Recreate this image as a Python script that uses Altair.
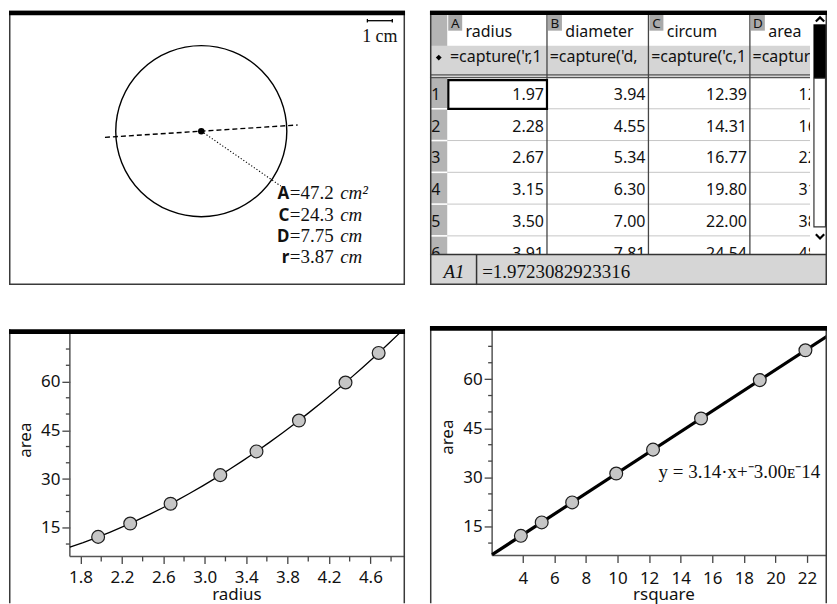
import math
import altair as alt
import pandas as pd

# ---------------- data ----------------
radius = [1.97, 2.28, 2.67, 3.15, 3.50, 3.91, 4.36, 4.68]
area = [12.2, 16.3, 22.4, 31.2, 38.5, 48.0, 59.7, 68.8]
rsquare = [3.88, 5.20, 7.13, 9.92, 12.25, 15.29, 19.01, 21.90]
diameter = [3.94, 4.55, 5.34, 6.30, 7.00, 7.81]
circum = [12.39, 14.31, 16.77, 19.80, 22.00, 24.54]

sheet_letters = ["A", "B", "C", "D"]
sheet_names = ["radius", "diameter", "circum", "area"]
sheet_formulas = ["=capture('r,1)", "=capture('d,1)", "=capture('c,1)", "=capture('a,1)"]
row_numbers = ["1", "2", "3", "4", "5", "6"]
entry_ref = "A1"
entry_value = "=1.9723082923316"

measure_letters = ["A", "C", "D", "r"]
measure_values = [47.2, 24.3, 7.75, 3.87]
measure_units = ["cm²", "cm", "cm", "cm"]
circle_radius_cm = 3.87
scale_bar_cm = 1
scale_bar_label = "1 cm"

equation_text = "y = 3.14·x+⁻3.00ᴇ⁻14"
left_x_title, right_x_title, y_title = "radius", "rsquare", "area"

radius_labels = [1.8, 2.2, 2.6, 3.0, 3.4, 3.8, 4.2, 4.6]
radius_minor = [2.0, 2.4, 2.8, 3.2, 3.6, 4.0, 4.4, 4.8]
rsquare_ticks = [4, 6, 8, 10, 12, 14, 16, 18, 20, 22]
area_labels = [15, 30, 45, 60]
area_minor = [10, 20, 25, 35, 40, 50, 55, 65, 70]

# ---------------- styles / layout ----------------
SANS = "Noto Sans"
SERIF = "Liberation Serif"
INK = "#111111"
FRAME = "#3a3a3a"
ONE = pd.DataFrame({"k": [0]})
CUT = "\u200b"


def frame_box(W, H):
    return alt.Chart(ONE).mark_rect(fillOpacity=0, stroke=FRAME, strokeWidth=1.5).encode(
        x=alt.value(0.75), x2=alt.value(W - 0.75), y=alt.value(0.75), y2=alt.value(H - 0.75))


def top_bar(W, y0, y1):
    return alt.Chart(ONE).mark_rect(color="black").encode(
        x=alt.value(0), x2=alt.value(W), y=alt.value(y0), y2=alt.value(y1))


def side_line(x, y0, y1):
    return alt.Chart(ONE).mark_rule(color=FRAME, strokeWidth=1.5).encode(
        x=alt.value(x), y=alt.value(y0), y2=alt.value(y1))


# ================= top-left: geometry =================
W1, H1 = 397, 275
PXCM = 25.0
sx1 = alt.Scale(domain=[0, W1 / PXCM], nice=False, zero=False)
sy1 = alt.Scale(domain=[0, H1 / PXCM], nice=False, zero=False)


def X1(f):
    return alt.X(f"{f}:Q", scale=sx1, axis=None)


def Y1(f):
    return alt.Y(f"{f}:Q", scale=sy1, axis=None)


cx, cy = 7.71, 6.17
r = circle_radius_cm
a_d = math.radians(3.67)
a_r = math.radians(-34.6)
centre = pd.DataFrame({"x": [cx], "y": [cy]})
diam_df = pd.DataFrame({"x": [cx - r * math.cos(a_d)], "y": [cy - r * math.sin(a_d)],
                        "x2": [cx + r * math.cos(a_d)], "y2": [cy + r * math.sin(a_d)]})
rad_df = pd.DataFrame({"x": [cx], "y": [cy],
                       "x2": [cx + r * math.cos(a_r)], "y2": [cy + r * math.sin(a_r)]})

circle = alt.Chart(centre).mark_point(shape="circle", filled=False, color="black", strokeWidth=1.4,
                                      opacity=1, size=math.pi * (r * PXCM) ** 2).encode(x=X1("x"), y=Y1("y"))
dot = alt.Chart(centre).mark_point(shape="circle", filled=True, color="black", opacity=1, size=42).encode(
    x=X1("x"), y=Y1("y"))
diam = alt.Chart(diam_df).mark_rule(color="black", strokeWidth=1.4, strokeDash=[5, 3]).encode(
    x=X1("x"), y=Y1("y"), x2=alt.X2("x2"), y2=alt.Y2("y2"))
radl = alt.Chart(rad_df).mark_rule(color="black", strokeWidth=1.1, strokeDash=[1.2, 2]).encode(
    x=X1("x"), y=Y1("y"), x2=alt.X2("x2"), y2=alt.Y2("y2"))

sb_x0, sb_y = 14.37, 10.6
sb_df = pd.DataFrame({"x": [sb_x0], "x2": [sb_x0 + scale_bar_cm], "y": [sb_y]})
sb_line = alt.Chart(sb_df).mark_rule(color="black", strokeWidth=1.3).encode(x=X1("x"), x2=alt.X2("x2"), y=Y1("y"))
caps_df = pd.DataFrame({"x": [sb_x0, sb_x0 + scale_bar_cm], "y": [sb_y - 0.07] * 2, "y2": [sb_y + 0.07] * 2})
sb_caps = alt.Chart(caps_df).mark_rule(color="black", strokeWidth=1.3).encode(x=X1("x"), y=Y1("y"), y2=alt.Y2("y2"))
sb_txt = alt.Chart(pd.DataFrame({"x": [sb_x0 + scale_bar_cm / 2], "y": [9.73], "t": [scale_bar_label]})).mark_text(
    font=SERIF, fontSize=18, color=INK, align="center", baseline="alphabetic").encode(x=X1("x"), y=Y1("y"), text="t:N")

meas = pd.DataFrame({"letter": measure_letters,
                     "value": [f"={v:g}" for v in measure_values],
                     "unit": measure_units})
meas["y"] = [3.44 - 0.857 * i for i in range(len(meas))]
meas["xl"] = 11.24
meas["xu"] = 13.28
m_letter = alt.Chart(meas).mark_text(font=SANS, fontWeight="bold", fontSize=17, color=INK, align="right",
                                     baseline="alphabetic").encode(x=X1("xl"), y=Y1("y"), text="letter:N")
m_value = alt.Chart(meas).mark_text(font=SERIF, fontSize=19, color=INK, align="left", dx=0.5,
                                    baseline="alphabetic").encode(x=X1("xl"), y=Y1("y"), text="value:N")
m_unit = alt.Chart(meas).mark_text(font=SERIF, fontStyle="italic", fontSize=19, color=INK, align="left",
                                   baseline="alphabetic").encode(x=X1("xu"), y=Y1("y"), text="unit:N")

tl = alt.layer(circle, diam, radl, dot, sb_line, sb_caps, sb_txt, m_letter, m_value, m_unit,
               frame_box(W1, H1), top_bar(W1, 0, 4.5)).properties(width=W1, height=H1)

# ================= top-right: spreadsheet =================
W2 = 398
col_left = [17.3, 117.3, 219.0, 320.7]
col_text_right = [114.3, 216.0, 317.7, 410.4]
SCROLL_X = 381.0
ENTRY_TOP = 244.3
ROW_BASE0, ROW_STEP = 89.3, 31.85
SEP0 = 98.3
sx2 = alt.Scale(domain=[0, W2], nice=False, zero=False)
sy2 = alt.Scale(domain=[0, H1], nice=False, zero=False, reverse=True)


def X2(f):
    return alt.X(f"{f}:Q", scale=sx2, axis=None)


def Y2(f):
    return alt.Y(f"{f}:Q", scale=sy2, axis=None)


def rects(rows, **kw):
    df = pd.DataFrame(rows, columns=["x", "x2", "y", "y2", "c"])
    return alt.Chart(df).mark_rect(**kw).encode(x=X2("x"), x2=alt.X2("x2"), y=Y2("y"), y2=alt.Y2("y2"),
                                                color=alt.Color("c:N", scale=None))


def boxes(rows, stroke, width):
    df = pd.DataFrame(rows, columns=["x", "x2", "y", "y2"])
    return alt.Chart(df).mark_rect(fillOpacity=0, stroke=stroke, strokeWidth=width).encode(
        x=X2("x"), x2=alt.X2("x2"), y=Y2("y"), y2=alt.Y2("y2"))


def rules(rows, color, width):
    df = pd.DataFrame(rows, columns=["x", "x2", "y", "y2"])
    return alt.Chart(df).mark_rule(color=color, strokeWidth=width).encode(
        x=X2("x"), x2=alt.X2("x2"), y=Y2("y"), y2=alt.Y2("y2"))


def texts(df, **kw):
    return alt.Chart(df).mark_text(**kw).encode(x=X2("x"), y=Y2("y"), text="t:N")


bg = rects([(0, 17.3, 4.3, ENTRY_TOP, "#b4b4b4"),
            (0, SCROLL_X, 35.0, 67.0, "#d5d5d5")] +
           [(cl + 1, cl + 15, 4.3, 20.0, "#a9a9a9") for cl in col_left])

vlines = rules([(cl, cl, 4.3, ENTRY_TOP) for cl in col_left[1:]], "#454545", 1.3)
dbl = rules([(0, SCROLL_X, 64.3, 64.3), (0, SCROLL_X, 67.0, 67.0)], "#555555", 1.2)
seps = [SEP0 + ROW_STEP * k for k in range(5)]
hsep = rules([(17.3, SCROLL_X, s, s) for s in seps], "#c6c6c6", 1.0)
hsep_w = rules([(0, 17.3, s, s) for s in seps], "#ffffff", 1.6)
sel = boxes([(18.4, 117.3, 69.6, 98.3)], "black", 2.2)

hdr_letters = texts(pd.DataFrame({"x": [c + 8 for c in col_left], "y": [17.0] * 4, "t": sheet_letters}),
                    font=SANS, fontSize=13.5, color=INK, align="center", baseline="alphabetic")
hdr_names = texts(pd.DataFrame({"x": [c + 18.4 for c in col_left], "y": [26.7] * 4, "t": sheet_names}),
                  font=SANS, fontSize=16, color=INK, align="left", baseline="alphabetic")
form_abc = texts(pd.DataFrame({"x": [c + 2.7 for c in col_left[:3]], "y": [51.7] * 3, "t": sheet_formulas[:3]}),
                 font=SANS, fontSize=16, color=INK, align="left", baseline="alphabetic", limit=96, ellipsis=CUT)
form_d = texts(pd.DataFrame({"x": [col_left[3] + 2.7], "y": [51.7], "t": sheet_formulas[3:]}),
               font=SANS, fontSize=16, color=INK, align="left", baseline="alphabetic", limit=58, ellipsis=CUT)
diamond = alt.Chart(pd.DataFrame({"x": [8.8], "y": [47.0]})).mark_point(
    shape="diamond", filled=True, color="black", opacity=1, size=34).encode(x=X2("x"), y=Y2("y"))

row_base = [ROW_BASE0 + ROW_STEP * i for i in range(len(row_numbers))]
rownum = texts(pd.DataFrame({"x": [1.2] * 6, "y": row_base, "t": row_numbers}),
               font=SANS, fontSize=16, color=INK, align="left", baseline="alphabetic")
cols = [radius[:6], diameter, circum, area[:6]]
cell_rows = []
for j, vals in enumerate(cols):
    for i, v in enumerate(vals):
        cell_rows.append({"x": col_text_right[j], "y": row_base[i], "t": f"{v:.2f}"})
cells = texts(pd.DataFrame(cell_rows), font=SANS, fontSize=16, color=INK, align="right",
              baseline="alphabetic", clip=True)

SCX = 391.0
scroll_bg = rects([(SCROLL_X, W2, 4.3, ENTRY_TOP, "#ffffff")])
thumb = rects([(384.4, 397.0, 13.6, 67.7, "#000000")])
track = boxes([(384.9, 396.5, 67.7, 216.7)], "#333333", 1.2)
chev_up = alt.Chart(pd.DataFrame({"x": [SCX], "y": [8.6]})).mark_point(
    shape="M -1 0.55 L 0 -0.45 L 1 0.55", filled=False, color="black",
    strokeWidth=2.2, opacity=1, size=70).encode(x=X2("x"), y=Y2("y"))
chev_dn = alt.Chart(pd.DataFrame({"x": [SCX], "y": [226.4]})).mark_point(
    shape="M -1 -0.55 L 0 0.45 L 1 -0.55", filled=False, color="black",
    strokeWidth=2.2, opacity=1, size=70).encode(x=X2("x"), y=Y2("y"))

entry_bg = rects([(0, W2, ENTRY_TOP, H1, "#d6d6d6")])
entry_lines = rules([(0, W2, ENTRY_TOP, ENTRY_TOP), (46.7, 46.7, ENTRY_TOP, H1)], "#333333", 1.5)
entry_ref_t = texts(pd.DataFrame({"x": [24.0], "y": [268.0], "t": [entry_ref]}),
                    font=SERIF, fontStyle="italic", fontSize=19, color=INK, align="center", baseline="alphabetic")
entry_val_t = texts(pd.DataFrame({"x": [52.3], "y": [268.0], "t": [entry_value]}),
                    font=SERIF, fontSize=19, color=INK, align="left", baseline="alphabetic")

tr = alt.layer(bg, hsep, hsep_w, dbl, vlines, hdr_letters, hdr_names, form_abc, form_d, diamond,
               rownum, cells, sel, scroll_bg, thumb, track, chev_up, chev_dn,
               entry_bg, entry_lines, entry_ref_t, entry_val_t,
               frame_box(W2, H1), top_bar(W2, 0, 4.3)).properties(width=W2, height=H1)

# ================= bottom: scatter plots =================
H2 = 278


def scatter_panel(df, xfield, W, xdom, ydom, x_org, y_org, xmajor, xminor, xfmt, xtitle,
                  method, extent, line_w, bar_top, x_lpad, x_tpad, title_x, title_y, extra=None):
    sx = alt.Scale(domain=xdom, nice=False, zero=False)
    sy = alt.Scale(domain=ydom, nice=False, zero=False)
    yaxis_px = (x_org - xdom[0]) / (xdom[1] - xdom[0]) * W
    xaxis_px = (ydom[1] - y_org) / (ydom[1] - ydom[0]) * H2
    common = dict(domain=False, grid=False, labelFont=SANS, labelFontSize=17, labelColor=INK,
                  titleFont=SANS, titleFontSize=17, titleFontWeight="normal", titleColor=INK,
                  tickColor="#444444", tickWidth=1.3, labelOverlap=False, labelFlush=False)
    x_axis = alt.Axis(values=xmajor, format=xfmt, tickSize=7, titleX=title_x,
                      offset=-(H2 - xaxis_px), title=xtitle, labelPadding=x_lpad, titlePadding=x_tpad, **common)
    y_axis = alt.Axis(values=area_labels, tickSize=8, titleY=title_y,
                      offset=-yaxis_px, title=y_title, labelPadding=2, titlePadding=6, **common)

    def xe(f):
        return alt.X(f"{f}:Q", scale=sx, axis=x_axis)

    def ye(f):
        return alt.Y(f"{f}:Q", scale=sy, axis=y_axis)

    y_top = ydom[1] - (bar_top + 2) / H2 * (ydom[1] - ydom[0])
    ax_df = pd.DataFrame({xfield: [x_org], "area": [y_org], "xe": [xdom[1]], "ye": [y_top]})
    yline = alt.Chart(ax_df).mark_rule(color="#555555", strokeWidth=1.5).encode(
        x=xe(xfield), y=ye("area"), y2=alt.Y2("ye"))
    xline = alt.Chart(ax_df).mark_rule(color="#555555", strokeWidth=1.5).encode(
        x=xe(xfield), x2=alt.X2("xe"), y=ye("area"))
    ymin_df = pd.DataFrame({"area": area_minor})
    ymin = alt.Chart(ymin_df).mark_rule(color="#444444", strokeWidth=1.3).encode(
        x=alt.value(yaxis_px - 4), x2=alt.value(yaxis_px), y=ye("area"))
    layers = [yline, xline, ymin]
    if xminor:
        xmin_df = pd.DataFrame({xfield: xminor})
        layers.append(alt.Chart(xmin_df).mark_rule(color="#444444", strokeWidth=1.3).encode(
            y=alt.value(xaxis_px), y2=alt.value(xaxis_px + 5), x=xe(xfield)))
    fit = alt.Chart(df).transform_regression(xfield, "area", method=method, extent=extent).mark_line(
        color="black", strokeWidth=line_w, clip=True).encode(x=xe(xfield), y=ye("area"))
    pts = alt.Chart(df).mark_point(shape="circle", filled=True, fill="#c6c6c6", stroke="#1e1e1e",
                                   strokeWidth=1.2, size=165, opacity=1).encode(x=xe(xfield), y=ye("area"))
    layers = layers + [fit, pts]
    if extra is not None:
        layers.append(alt.Chart(extra).mark_text(font=SERIF, fontSize=19, color=INK, align="left",
                                                 baseline="alphabetic").encode(
            x=xe(xfield), y=ye("area"), text="t:N"))
    layers += [side_line(0.75, bar_top, H2), side_line(W - 0.75, bar_top, H2), top_bar(W, bar_top, bar_top + 4.7)]
    return alt.layer(*layers).properties(width=W, height=H2)


W3 = 397
left_df = pd.DataFrame({"radius": radius, "area": area})
bl = scatter_panel(left_df, "radius", W3, [1.109, 4.935], [-8.23, 77.10], 1.697, 6.19,
                   radius_labels, radius_minor, ".1f", left_x_title, "pow", [1.697, 4.905], 1.3,
                   3.3, 6.4, 1, 228, 114)

W4 = 398
right_df = pd.DataFrame({"rsquare": rsquare, "area": area})
eq_df = pd.DataFrame({"rsquare": [12.6], "area": [29.88], "t": [equation_text]})
br = scatter_panel(right_df, "rsquare", W4, [-1.875, 23.267], [-8.36, 76.22], 2.061, 6.24,
                   rsquare_ticks, [], "d", right_x_title, "linear", [2.061, 24.5], 3.2,
                   0.0, 8.0, 0, 234, 111, extra=eq_df)

chart = (alt.concat(tl, tr, bl, br, columns=2, spacing={"row": 41, "column": 25}, bounds="flush")
         .properties(padding={"left": 1, "top": 2, "right": 0, "bottom": 0})
         .configure(font=SANS)
         .configure_view(strokeWidth=0))

chart.save("out.html", embed_options={"renderer": "svg", "actions": False})
